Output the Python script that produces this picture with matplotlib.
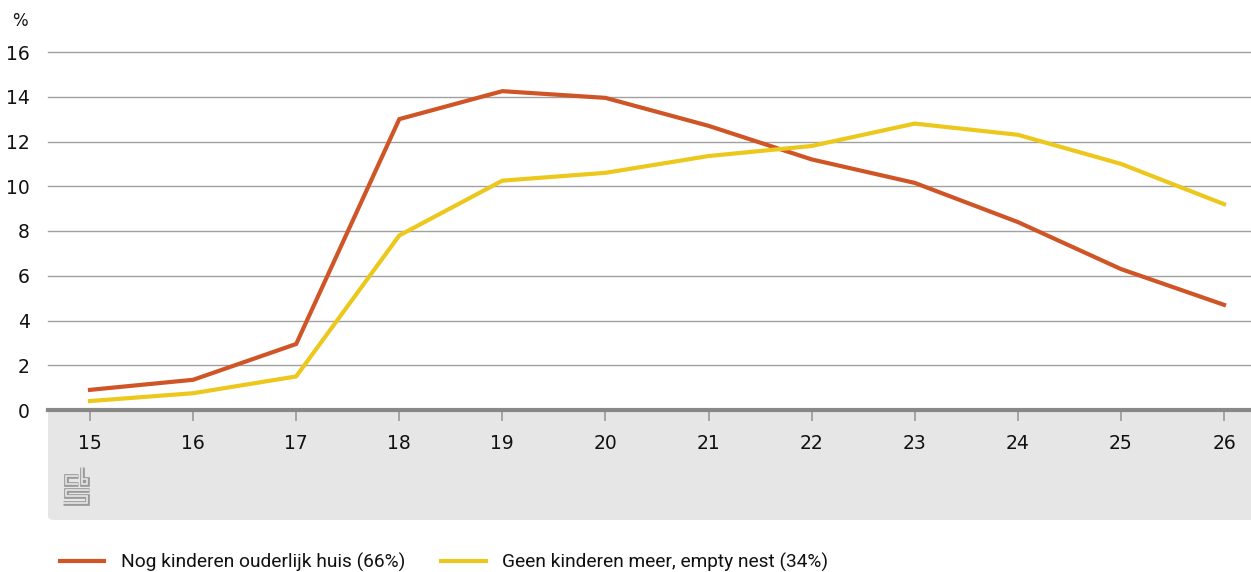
import matplotlib.pyplot as plt
from matplotlib.patches import FancyBboxPatch
from matplotlib.lines import Line2D

# leeftijd jongste kind
leeftijd = [15, 16, 17, 18, 19, 20, 21, 22, 23, 24, 25, 26]
nog_thuis = [0.9, 1.35, 2.95, 13.0, 14.25, 13.95, 12.7, 11.2, 10.15, 8.4, 6.3, 4.7]
empty_nest = [0.4, 0.75, 1.5, 7.8, 10.25, 10.6, 11.35, 11.8, 12.8, 12.3, 11.0, 9.2]
y_ticks = [0, 2, 4, 6, 8, 10, 12, 14, 16]
labels = ["Nog kinderen ouderlijk huis (66%)", "Geen kinderen meer, empty nest (34%)"]

W, H = 1251, 572
fig = plt.figure(figsize=(W / 100, H / 100), dpi=100)
ax = fig.add_axes([48 / W, (H - 410) / H, 1 - 48 / W, (410 - 52) / H])

# grijze band onder de x-as
band = FancyBboxPatch((48 / W, (H - 520) / H), 1.05 - 48 / W, 130 / H,
                      boxstyle="round,pad=0,rounding_size=0.006",
                      transform=fig.transFigure, facecolor="#e6e6e6",
                      edgecolor="none", zorder=-1)
fig.patches.append(band)

for v in y_ticks[1:]:
    ax.axhline(v, color="#a0a0a0", lw=1, zorder=1, clip_on=False)

ax.plot(leeftijd, nog_thuis, color="#cf5527", lw=3, zorder=3)
ax.plot(leeftijd, empty_nest, color="#ecc81c", lw=3, zorder=3)

ax.set_xlim(15 - 42 / 103.1, 26 + 27 / 103.1)
ax.set_ylim(0, 16)
ax.set_xticks(leeftijd)
ax.set_yticks(y_ticks)
for s in ["top", "right", "left"]:
    ax.spines[s].set_visible(False)
ax.spines["bottom"].set_color("#888888")
ax.spines["bottom"].set_linewidth(3)
ax.spines["bottom"].set_zorder(4)
ax.tick_params(axis="x", length=8, width=1.2, color="#999999", pad=9,
               labelsize=13.5, labelcolor="#111111")
ax.tick_params(axis="y", length=0, pad=13, labelsize=13.5, labelcolor="#111111")

fig.text(12 / W, 1 - 21 / H, "%", fontsize=12, va="center", ha="left", color="#111111")

# cbs logo (vereenvoudigd): dikke grijze lijn met lichte binnenlijn
def fl(xs, ys):
    xf = [x / W for x in xs]
    yf = [1 - y / H for y in ys]
    fig.add_artist(Line2D(xf, yf, color="#9a9a9a", lw=3.4, solid_joinstyle="miter", solid_capstyle="butt"))
    fig.add_artist(Line2D(xf, yf, color="#e6e6e6", lw=1.2, solid_joinstyle="miter", solid_capstyle="butt"))
fl([78, 65.5, 65.5, 78], [475.5, 475.5, 484, 484])
fl([81.5, 81.5, 87, 87, 81.5], [467, 484, 484, 478.5, 478.5])
fl([89, 65.5, 65.5, 87, 87, 63], [490, 490, 496, 496, 503, 503])

leg = [Line2D([], [], color="#cf5527", lw=3), Line2D([], [], color="#ecc81c", lw=3)]
fig.legend(leg, labels, loc="center left", bbox_to_anchor=(43 / W, 1 - 562 / H),
           ncol=2, frameon=False, prop={"family": ["Roboto", "DejaVu Sans"], "size": 13.8},
           handlelength=2.3, handletextpad=0.85, columnspacing=1.9, labelcolor="#111111")

fig.savefig("out.png", dpi=100)
